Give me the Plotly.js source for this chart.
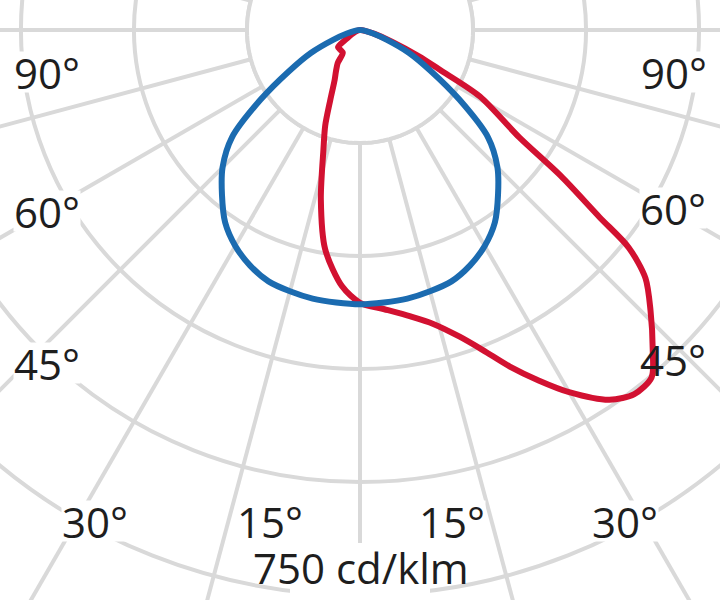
<!DOCTYPE html>
<html>
<head>
<meta charset="utf-8">
<script src="https://cdn.plot.ly/plotly-3.0.1.min.js"></script>
<style>
  html, body { margin:0; padding:0; width:720px; height:600px; overflow:hidden; background:#ffffff; }
  #chart { position:absolute; left:-340px; top:-670px; width:1400px; height:1400px; }
</style>
</head>
<body>
<div id="chart"></div>
<script>
// ---- data (cd/klm, angle in degrees from nadir; + = right side) ----
const blueAngles = [-90,-85,-80,-75,-70,-65,-60,-55,-50,-45,-40,-35,-30,-25,-20,-15,-10,-5,0,5,10,15,20,25,30,35,40,45,50,55,60,65,70,75,80,85,90];
const blueValues = [0,2,7,18,38,72,108,161,222,258,285,312,331,345,355,359,362,363,364,363,362,359,355,345,331,312,285,258,222,161,108,72,38,18,7,2,0];

const redAngles = [-90,-75,-65,-56,-52,-44,-37,-34,-30,-27,-23,-20,-17,-13,-9,-4,0,5,10,14,18,21,24,27,30,34,37,40,42.5,46,49,51,52,54,56,61,63.5,66,70,75,80,90];
const redValues = [0,3,10,24,37,37,38,53,64,74,101,135,166,231,295,341,362,372,386,402,428,455,489,522,555,592,605,602,575,536,502,459,403,329,255,182,119,85,45,20,8,0];

const ringValues = [150, 300, 450, 600, 750];
const angleLabels = ['90°','60°','45°','30°','15°','15°','30°','45°','60°','90°'];
const scaleLabel = '750 cd/klm';

// ---- layout helpers (page pixel -> paper coords of the oversized figure) ----
const FIG = 1400, OX = -340, OY = -670;
const px = x => (x - OX) / FIG;
const py = y => 1 - (y - OY) / FIG;

const labelPos = [[47,72],[47,211],[47,363],[95,521],[270,521],[452,521],[625,521],[673,359],[673,208],[674,72]];
const noBg = {7:true};

const FONT = {family:'"Open Sans", "Noto Sans", sans-serif', size:42, color:'#1e1e1e'};
const GRID = '#d9d9d9';

const annotations = angleLabels.map((t,i) => ({
  text:t, xref:'paper', yref:'paper', x:px(labelPos[i][0]), y:py(labelPos[i][1]),
  xanchor:'center', yanchor:'middle', showarrow:false, font:FONT, height:40, valign:'middle',
  bgcolor: noBg[i] ? 'rgba(0,0,0,0)' : '#ffffff', borderpad:0
}));
annotations.push({text:scaleLabel, xref:'paper', yref:'paper', x:px(361), y:py(567),
  xanchor:'center', yanchor:'middle', showarrow:false, font:FONT, height:40, valign:'middle'});

// hub disc (hides spokes inside the first ring)
const hubTheta = [], hubR = [];
for (let a = 0; a <= 360; a += 3) { hubTheta.push(a); hubR.push(ringValues[0]); }

const traces = [
  {type:'scatterpolar', r:hubR, theta:hubTheta, mode:'lines', fill:'toself',
   fillcolor:'#ffffff', line:{color:GRID, width:4}, hoverinfo:'skip'},
  {type:'scatterpolar', r:redValues, theta:redAngles, mode:'lines',
   line:{color:'#d21131', width:6, shape:'spline', smoothing:0.8}},
  {type:'scatterpolar', r:blueValues, theta:blueAngles, mode:'lines',
   line:{color:'#1b6bb0', width:6, shape:'spline', smoothing:0.8}}
];

const layout = {
  width:FIG, height:FIG, margin:{l:0,r:0,t:0,b:0},
  paper_bgcolor:'#ffffff', showlegend:false, hovermode:false,
  polar:{
    domain:{x:[0,1], y:[0,1]}, bgcolor:'#ffffff',
    radialaxis:{range:[0,929], tickvals:ringValues, showticklabels:false, ticks:'',
      showline:false, gridcolor:GRID, gridwidth:4},
    angularaxis:{rotation:270, direction:'counterclockwise', tickmode:'linear', tick0:0, dtick:15,
      showticklabels:false, ticks:'', showline:false, gridcolor:GRID, gridwidth:4}
  },
  shapes:[
    {type:'rect', xref:'paper', yref:'paper', x0:px(290), x1:px(430), y0:py(600), y1:py(543),
     fillcolor:'#ffffff', line:{width:0}, layer:'above'}
  ],
  annotations:annotations
};

Plotly.newPlot('chart', traces, layout, {staticPlot:true, displayModeBar:false});
</script>
</body>
</html>
